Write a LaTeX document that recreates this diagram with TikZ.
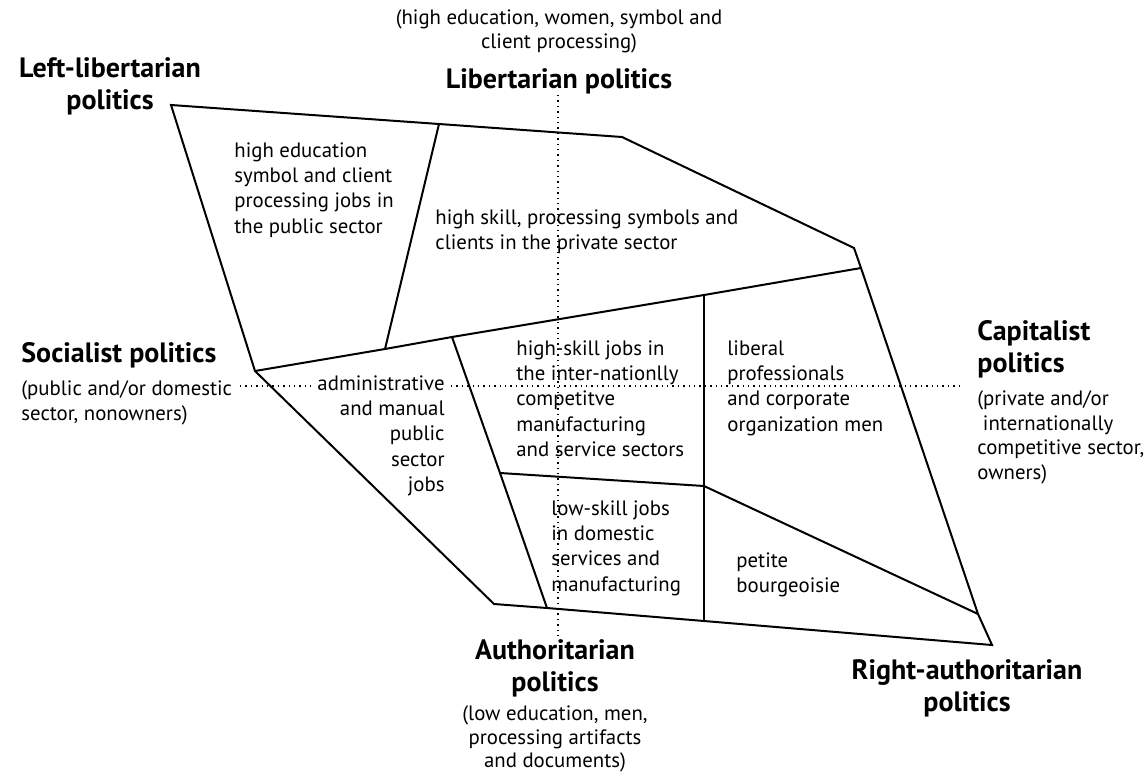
\documentclass[tikz,border=0pt]{standalone}
\usepackage{fontspec}
\setmainfont{PT Sans}
\usetikzlibrary{positioning}

\begin{document}
\begin{tikzpicture}[
    x=0.5pt, y=-0.5pt,
    edge/.style={line width=1pt, line join=miter},
    axis/.style={dotted, line width=0.7pt},
    pole/.style={font=\fontsize{14}{16}\selectfont\bfseries, inner sep=0pt},
    note/.style={font=\fontsize{10.4}{12.3}\selectfont, inner sep=0pt},
    cell/.style={font=\fontsize{10.4}{12.7}\selectfont, inner sep=0pt,
                 align=left, anchor=north west},
]
\useasboundingbox (0,0) rectangle (1145,776);

% --- corners of the map ---
\coordinate (tl) at (171,105);
\coordinate (t1) at (439,124);
\coordinate (t2) at (622,137);
\coordinate (r1) at (854,248);
\coordinate (r2) at (861,268);
\coordinate (r3) at (978,614);
\coordinate (br) at (992,645);
\coordinate (b2) at (704,621);
\coordinate (b1) at (547,608);
\coordinate (bl) at (494,604);
\coordinate (lf) at (255,371);
% inner junctions
\coordinate (m1) at (385,349);
\coordinate (m2) at (452,337);
\coordinate (m3) at (704,295);
\coordinate (c1) at (500,473);
\coordinate (c2) at (704,486);

% --- poles ---
\node[pole] (lib) at (559,81) {Libertarian politics};
\node[note, align=center, above=7pt of lib] (libsub)
     {(high education, women, symbol and\\client processing)};
\node[pole, align=center] (leftlib) at (110,86) {Left-libertarian\\politics};
\node[pole, anchor=west] (soc) at (21,355) {Socialist politics};
\node[note, align=left, below right=6pt and 0pt of soc.south west] (socsub)
     {(public and/or domestic\\sector, nonowners)};
\node[pole, align=left, anchor=north west] (cap) at (977,320) {Capitalist\\politics};
\node[note, align=left, below right=6pt and 0pt of cap.south west] (capsub)
     {(private and/or\\\ internationally\\competitive sector,\\owners)};
\node[pole, align=center] (auth) at (555,668) {Authoritarian\\politics};
\node[note, align=center, font=\fontsize{10.4}{11.9}\selectfont, below=4pt of auth] (authsub)
     {(low education, men,\\processing artifacts\\and documents)};
\node[pole, align=center] (rightauth) at (967,688) {Right-authoritarian\\politics};

% --- cells ---
\node[cell] (pubhigh) at (234,142)
     {high education\\symbol and client\\processing jobs in\\the public sector};
\node[cell] (privhigh) at (435,209)
     {high skill, processing symbols and\\clients in the private sector};
\node[cell, align=right, anchor=north east, inner xsep=3pt] (admin) at (451,375)
     {administrative\\and manual\\public\\sector\\jobs};
\node[cell] (highskill) at (516,340)
     {high-skill jobs in\\the inter-nationlly\\competitve\\manufacturing\\and service sectors};
\node[cell] (liberal) at (727,340)
     {liberal\\professionals\\and corporate\\organization men};
\node[cell] (lowskill) at (551,500)
     {low-skill jobs\\in domestic\\services and\\manufacturing};
\node[cell] (petite) at (736,552) {petite\\bourgeoisie};

% --- the two dotted axes (broken round "administrative") ---
\coordinate (ntop) at (558,95);
\coordinate (nbot) at (558,638);
\coordinate (wend) at (240,386);
\coordinate (eend) at (960,386);
\draw[axis] (ntop) -- (nbot);
\draw[axis] (wend) -- (admin.west |- wend);
\draw[axis] (admin.east |- eend) -- (eend);

% --- outline and cell borders ---
\draw[edge] (tl) -- (t1) -- (t2) -- (r1) -- (r2) -- (r3) -- (br)
            -- (b2) -- (b1) -- (bl) -- (lf) -- cycle;
\draw[edge] (t1) -- (m1);
\draw[edge] (lf) -- (m1) -- (m2) -- (m3) -- (r2);
\draw[edge] (m2) -- (c1) -- (b1);
\draw[edge] (m3) -- (c2) -- (b2);
\draw[edge] (c1) -- (c2) -- (r3);

\end{tikzpicture}
\end{document}
